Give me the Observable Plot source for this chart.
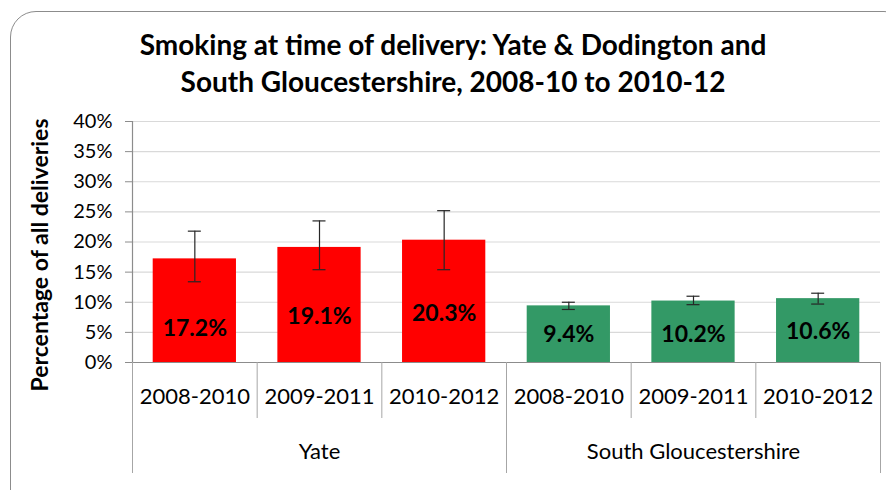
<!DOCTYPE html>
<html><head><meta charset="utf-8">
<script src="https://cdn.jsdelivr.net/npm/d3@7"></script>
<script src="https://cdn.jsdelivr.net/npm/@observablehq/plot@0.6"></script>
<style>
body{margin:0;background:#fff;overflow:hidden}
#wrap{position:relative;width:886px;height:490px;overflow:hidden;font-family:Lato,sans-serif;background:#fff}
#border{position:absolute;left:10px;top:11px;width:900px;height:520px;border:1.5px solid #8c8c8c;border-radius:26px;box-sizing:border-box}
#title{position:absolute;left:0;width:906px;top:26px;text-align:center;font-weight:bold;font-size:28px;line-height:37px;color:#000;white-space:nowrap}
#chart{position:absolute;left:0;top:0}
</style></head><body>
<div id="wrap"><div id="border"></div><div id="title">Smoking at time of delivery: Yate &amp; Dodington and<br>South Gloucestershire, 2008-10 to 2010-12</div><div id="chart"></div></div>
<script>
const groupNames = ["Yate", "South Gloucestershire"];
const areas = ["Yate", "Yate", "Yate", "South Gloucestershire", "South Gloucestershire", "South Gloucestershire"];
const periods = ["2008-2010", "2009-2011", "2010-2012", "2008-2010", "2009-2011", "2010-2012"];
const values = [17.2, 19.1, 20.3, 9.4, 10.2, 10.6];
const lower = [13.4, 15.4, 15.4, 8.8, 9.6, 9.7];
const upper = [21.8, 23.5, 25.2, 10.0, 11.0, 11.5];
const labelAt = [5.6, 7.6, 8.1, 4.6, 4.6, 5.2];
const yTicks = [0, 5, 10, 15, 20, 25, 30, 35, 40];
const groupColors = ["#ff0000", "#339966"];
const yLabel = "Percentage of all deliveries";

const rows = values.map((v, i) => ({i, area: areas[i], period: periods[i], value: v, lo: lower[i], hi: upper[i], lab: labelAt[i]}));
const mid = d => d.i + 0.5;
const boundaries = d3.range(0, rows.length + 1);
const groups = groupNames.map(g => {
  const idx = rows.filter(r => r.area === g).map(r => r.i);
  return {name: g, start: d3.min(idx), end: d3.max(idx) + 1};
});
const groupEdges = Array.from(new Set(groups.flatMap(g => [g.start, g.end])));

const chart = Plot.plot({
  width: 886, height: 490,
  marginTop: 121, marginBottom: 128, marginLeft: 132, marginRight: 6,
  style: {fontFamily: "Lato, sans-serif", fontSize: "20px", background: "transparent", color: "#000"},
  x: {domain: [0, rows.length]},
  y: {domain: [0, 40]},
  color: {domain: groupNames, range: groupColors},
  marks: [
    Plot.gridY(yTicks, {stroke: "#d9d9d9", strokeOpacity: 1, strokeWidth: 1.2}),
    Plot.rectY(rows, {x1: "i", x2: d => d.i + 1, y: "value", fill: "area", insetLeft: 20.7, insetRight: 20.7}),
    Plot.ruleX(rows, {x: mid, y1: "lo", y2: "hi", stroke: "#262626", strokeWidth: 1.2}),
    Plot.ruleY(rows, {y: "hi", x1: mid, x2: mid, insetLeft: -6.5, insetRight: -6.5, stroke: "#262626", strokeWidth: 1.2}),
    Plot.ruleY(rows, {y: "lo", x1: mid, x2: mid, insetLeft: -6.5, insetRight: -6.5, stroke: "#262626", strokeWidth: 1.2}),
    Plot.text(rows, {x: mid, y: "lab", text: d => d.value.toFixed(1) + "%", fontWeight: "bold", fontSize: 23, fill: "#000"}),
    Plot.ruleY([0], {stroke: "#8c8c8c", strokeWidth: 1.2}),
    Plot.ruleX([0], {stroke: "#8c8c8c", strokeWidth: 1.2}),
    Plot.axisY(yTicks, {tickSize: 7, tickPadding: 13, tickFormat: d => d + "%", label: null, stroke: "#8c8c8c", fontSize: 20}),
    Plot.axisX(boundaries, {tickSize: 56, tickFormat: () => "", label: null, stroke: "#a6a6a6"}),
    Plot.axisX(groupEdges, {tickSize: 111, tickFormat: () => "", label: null, stroke: "#a6a6a6"}),
    Plot.text(rows, {x: mid, frameAnchor: "bottom", dy: 41, text: "period", fontSize: 22, fill: "#000"}),
    Plot.text(groups, {x: g => (g.start + g.end) / 2, frameAnchor: "bottom", dy: 96, text: "name", fontSize: 22, fill: "#000"}),
    Plot.text([yLabel], {frameAnchor: "left", textAnchor: "middle", rotate: -90, dx: -92, dy: 13, fontWeight: "bold", fontSize: 23, fill: "#000"})
  ]
});
document.getElementById("chart").appendChild(chart);
</script>
</body></html>
